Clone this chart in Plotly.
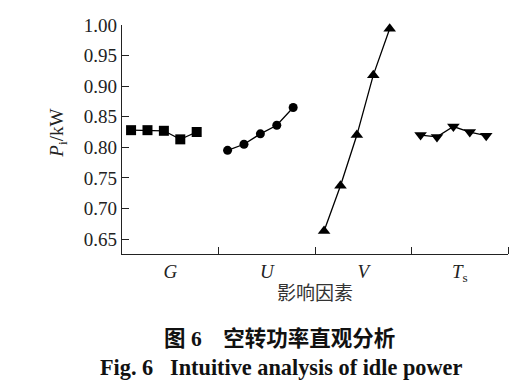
import plotly.graph_objects as go

factors = ["G", "U", "V", "Ts"]
tick_labels = ["<i>G</i>", "<i>U</i>", "<i>V</i>", "<i>T</i><sub>s</sub>"]
G_vals = [0.828, 0.828, 0.827, 0.813, 0.825]
U_vals = [0.795, 0.805, 0.822, 0.836, 0.865]
V_vals = [0.663, 0.737, 0.820, 0.918, 0.994]
Ts_vals = [0.820, 0.817, 0.834, 0.825, 0.819]
series = [G_vals, U_vals, V_vals, Ts_vals]
symbols = ["square", "circle", "triangle-up", "triangle-down"]
sizes = [10, 9, 11, 11]

fig = go.Figure()
for i, vals in enumerate(series):
    xs = [i + 0.094 + 0.17 * j for j in range(len(vals))]
    fig.add_trace(go.Scatter(
        x=xs, y=vals, mode="lines+markers",
        line=dict(color="black", width=1.3),
        marker=dict(symbol=symbols[i], size=sizes[i], color="black"),
        showlegend=False, cliponaxis=False, hoverinfo="skip"))

serif = "Liberation Serif, Times New Roman, serif"
fig.update_layout(
    width=530, height=386,
    margin=dict(l=122, r=22, t=25, b=132),
    paper_bgcolor="white", plot_bgcolor="white",
    font=dict(family=serif, color="#222", size=19),
    xaxis=dict(range=[0, 4], showline=True, linecolor="#222", linewidth=1.3,
               tickvals=[0.5, 1.5, 2.5, 3.5], ticktext=tick_labels, ticks="",
               showgrid=False, zeroline=False, tickfont=dict(size=19, family=serif),
               minor=dict(tickvals=[1, 2, 3, 4], ticks="inside", ticklen=7,
                          tickcolor="#222", tickwidth=1.3, showgrid=False)),
    yaxis=dict(range=[0.6255, 1.0], showline=True, linecolor="#222", linewidth=1.3,
               dtick=0.05, tick0=0.65, tickformat=".2f", ticks="inside", ticklen=7,
               tickcolor="#222", tickwidth=1.3, showgrid=False, zeroline=False,
               tickfont=dict(size=19, family=serif)),
)

def note(x, y, text, size, family, color, angle=0):
    fig.add_annotation(x=x, y=y, xref="paper", yref="paper", text=text,
                       textangle=angle, showarrow=False, xanchor="center",
                       yanchor="middle",
                       font=dict(size=size, family=family, color=color))

note(-0.1658, 0.5255, "<i>P</i><sub>i</sub>/kW", 19, serif, "#222", angle=-90)
note(0.5, -0.1644, "影响因素", 19, "Noto Sans CJK SC", "#333")
note(0.409, -0.3707, "<b>图 6　空转功率直观分析</b>", 21.5,
     "Liberation Serif, Noto Sans CJK SC", "#111")
note(0.412, -0.4972, "<b>Fig. 6   Intuitive analysis of idle power</b>", 22.3,
     serif, "#111")

fig.write_html("out.html", config={"displayModeBar": False},
               post_script="document.body.style.margin='0px';")
